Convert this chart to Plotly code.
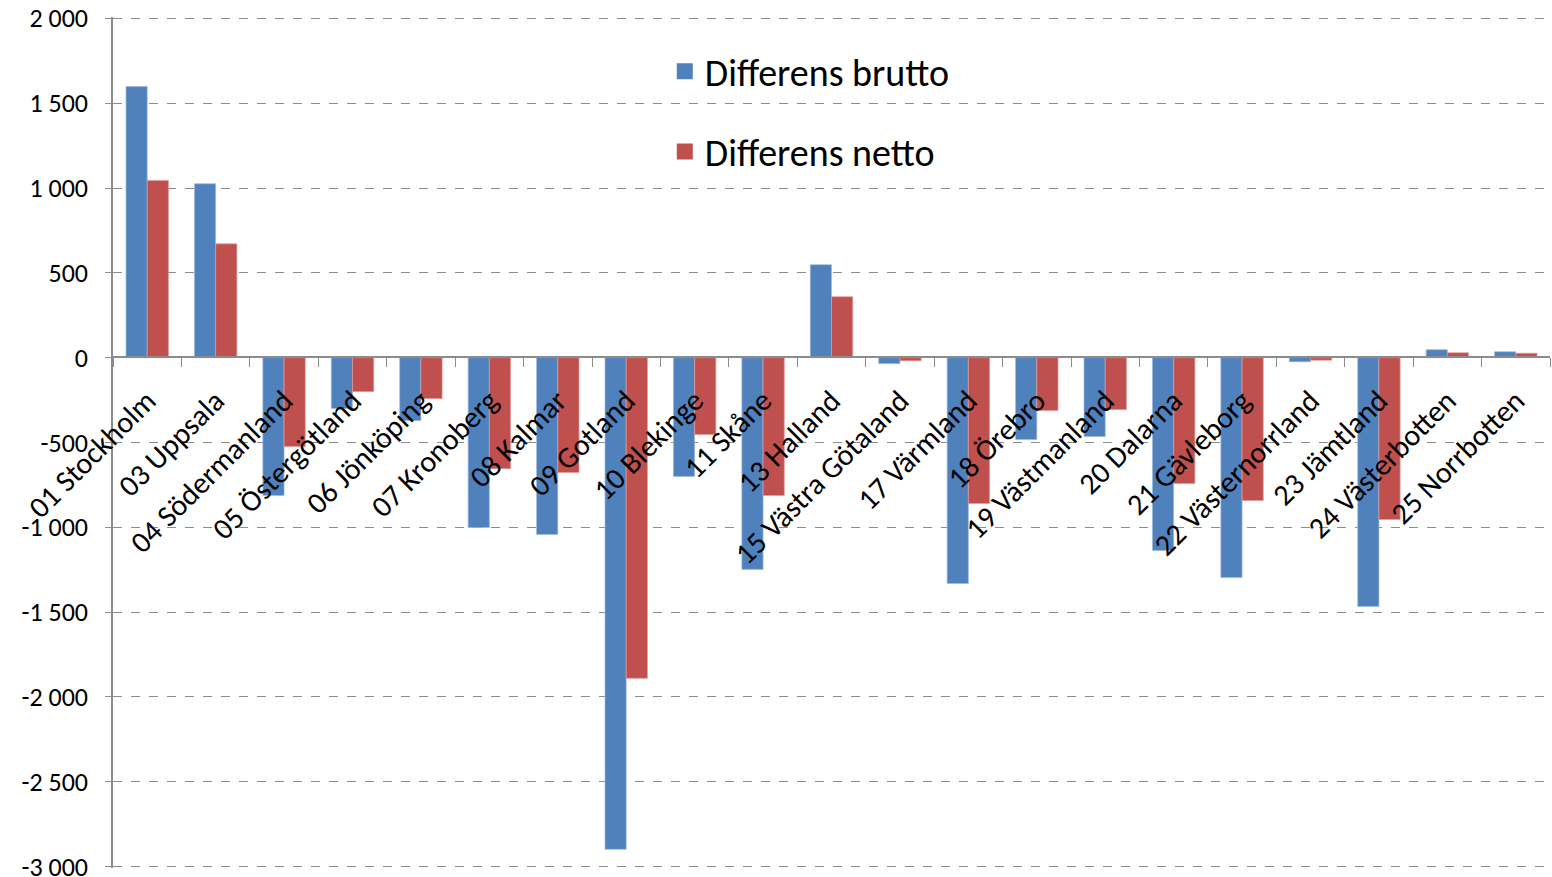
import plotly.graph_objects as go

categories = ["01 Stockholm", "03 Uppsala", "04 Södermanland", "05 Östergötland",
              "06 Jönköping", "07 Kronoberg", "08 Kalmar", "09 Gotland",
              "10 Blekinge", "11 Skåne", "13 Halland", "15 Västra Götaland",
              "17 Värmland", "18 Örebro", "19 Västmanland", "20 Dalarna",
              "21 Gävleborg", "22 Västernorrland", "23 Jämtland",
              "24 Västerbotten", "25 Norrbotten"]
brutto = [1598, 1025, -813, -300, -371, -1001, -1042, -2898, -700, -1248, 548,
          -35, -1331, -483, -465, -1137, -1296, -24, -1466, 47, 35]
netto = [1045, 671, -524, -200, -241, -654, -677, -1890, -453, -813, 359,
         -18, -860, -312, -306, -742, -842, -15, -954, 29, 26]
tick_vals = [2000, 1500, 1000, 500, 0, -500, -1000, -1500, -2000, -2500, -3000]
tick_text = ["2 000", "1 500", "1 000", "500", "0", "-500", "-1 000", "-1 500",
             "-2 000", "-2 500", "-3 000"]

font_family = "Carlito, Lato, Open Sans, sans-serif"
blue = "#4F81BD"
red = "#C0504D"

fig = go.Figure()
fig.add_trace(go.Bar(x=categories, y=brutto, name="Differens brutto",
                     marker=dict(color=blue, line=dict(color="#9DB9DC", width=0.7)),
                     showlegend=False))
fig.add_trace(go.Bar(x=categories, y=netto, name="Differens netto",
                     marker=dict(color=red, line=dict(color="#E09A98", width=0.7)),
                     showlegend=False))
# legend entries with larger square swatches
fig.add_trace(go.Scatter(x=[None], y=[None], mode="markers", name="Differens brutto",
                         marker=dict(symbol="square", size=16, color=blue),
                         legendgroup="a", showlegend=True))
fig.add_trace(go.Scatter(x=[None], y=[None], mode="markers", name="Differens netto",
                         marker=dict(symbol="square", size=16, color=red),
                         legendgroup="b", showlegend=True))

fig.update_layout(
    width=1552, height=877,
    margin=dict(l=113, r=2, t=17, b=9, autoexpand=False),
    paper_bgcolor="white", plot_bgcolor="white",
    barmode="group", bargap=0.38, bargroupgap=0,
    font=dict(family=font_family, color="black"),
    showlegend=True,
    legend=dict(x=0.384, y=0.973, xanchor="left", yanchor="top",
                font=dict(size=38, family=font_family),
                tracegroupgap=28, itemwidth=30, bgcolor="rgba(0,0,0,0)"),
    xaxis=dict(anchor="free", position=0.6, showgrid=False, showline=True,
               linecolor="#8C8C8C", linewidth=1.5, ticks="outside",
               tickson="boundaries", ticklen=9, tickcolor="#8C8C8C",
               tickangle=-45, tickfont=dict(size=30, family=font_family),
               ticklabelstandoff=13, zeroline=False, automargin=False),
    yaxis=dict(range=[-3008, 2008], tickvals=tick_vals, ticktext=tick_text,
               showgrid=True, gridcolor="#8C8C8C", griddash="dash", gridwidth=1.2,
               showline=True, linecolor="#8C8C8C", linewidth=1.5,
               ticks="outside", ticklen=6, tickcolor="#8C8C8C",
               tickfont=dict(size=26, family=font_family),
               ticklabelstandoff=12, ticklabeloverflow="allow",
               zeroline=False, automargin=False),
)

fig.write_html("out.html", config={"displayModeBar": False},
               post_script="document.body.style.margin='0';document.body.style.padding='0';")
